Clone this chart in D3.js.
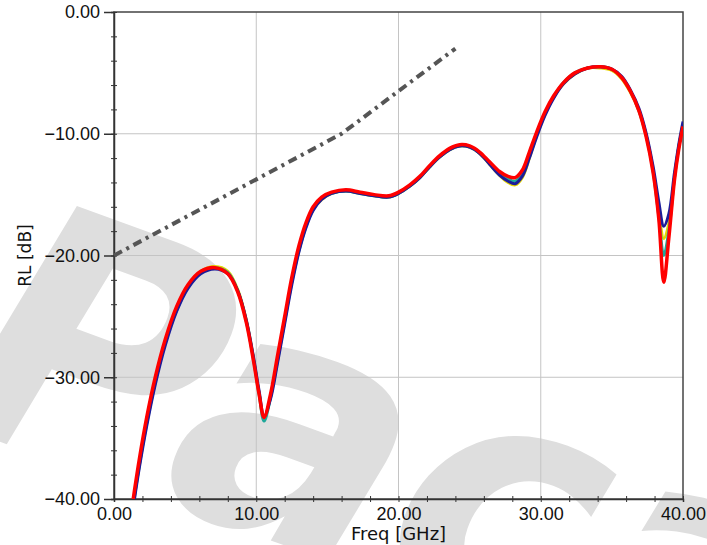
<!DOCTYPE html>
<html>
<head>
<meta charset="utf-8">
<script src="https://cdn.jsdelivr.net/npm/d3@7"></script>
<style>
	body { margin: 0; background: #fff; }
	svg { display: block; font-family: 'DejaVu Sans', sans-serif; }
</style>
</head>
<body>
<div id="chart"></div>
<script>
const freq = [1.35, 1.8, 2.3, 2.9, 3.6, 4.4, 5.2, 6.1, 7.1, 8.0, 8.7, 9.3, 9.8, 10.2, 10.55, 11.0, 11.5, 12.0, 12.5, 13.0, 13.5, 14.0, 14.6, 15.3, 16.3, 17.3, 18.3, 19.3, 20.0, 20.8, 21.5, 22.2, 22.9, 23.6, 24.3, 25.0, 25.7, 26.4, 27.1, 27.7, 28.2, 28.7, 29.2, 29.7, 30.3, 30.9, 31.6, 32.4, 33.3, 34.2, 35.0, 35.7, 36.3, 36.9, 37.4, 37.9, 38.3, 38.65, 39.0, 39.4, 39.7, 40]

const rlYellow = [-40.4, -37.0, -33.7, -30.3, -27.1, -24.4, -22.5, -21.3, -20.9, -21.3, -22.8, -25.3, -28.4, -31.3, -33.4, -31.6, -28.5, -25.3, -22.1, -19.5, -17.5, -16.2, -15.4, -14.9, -14.7, -14.9, -15.1, -15.2, -14.9, -14.3, -13.6, -12.7, -11.9, -11.3, -11.0, -11.1, -11.6, -12.5, -13.4, -14.0, -14.2, -13.6, -12.0, -10.2, -8.4, -7.0, -5.9, -5.1, -4.6, -4.6, -4.8, -5.5, -6.6, -8.1, -10.1, -13.0, -16.4, -18.6, -17.4, -13.6, -11.1, -9.2]
const rlGreen = [-40.5, -37.1, -33.8, -30.4, -27.2, -24.5, -22.6, -21.4, -21.0, -21.4, -22.9, -25.4, -28.5, -31.4, -33.6, -31.7, -28.6, -25.4, -22.2, -19.6, -17.6, -16.2, -15.3, -14.9, -14.7, -14.9, -15.1, -15.2, -14.9, -14.3, -13.6, -12.7, -11.9, -11.3, -11.0, -11.1, -11.6, -12.4, -13.2, -13.7, -13.9, -13.3, -11.8, -10.1, -8.3, -7.0, -5.8, -5.0, -4.6, -4.5, -4.7, -5.4, -6.5, -8.1, -10.1, -13.1, -16.8, -20.0, -18.0, -13.6, -11.1, -9.3]
const rlBlue = [-40.7, -37.3, -34.0, -30.6, -27.4, -24.6, -22.7, -21.5, -21.1, -21.5, -22.9, -25.3, -28.3, -31.1, -33.2, -31.8, -28.8, -25.6, -22.4, -19.7, -17.7, -16.3, -15.4, -14.9, -14.7, -14.9, -15.1, -15.2, -14.9, -14.3, -13.6, -12.7, -11.9, -11.3, -11.0, -11.1, -11.6, -12.5, -13.4, -13.9, -14.1, -13.5, -12.0, -10.3, -8.5, -7.1, -5.9, -5.1, -4.6, -4.5, -4.7, -5.3, -6.4, -7.9, -9.9, -12.7, -15.6, -17.6, -16.6, -13.2, -10.9, -9.0]
const rlRed = [-40, -36.6, -33.3, -30.0, -26.9, -24.2, -22.4, -21.3, -21.0, -21.5, -23.0, -25.5, -28.6, -31.4, -33.3, -31.4, -28.2, -25.0, -21.8, -19.2, -17.3, -16.0, -15.2, -14.8, -14.6, -14.8, -15.0, -15.1, -14.8, -14.2, -13.5, -12.6, -11.8, -11.2, -10.9, -11.0, -11.5, -12.3, -13.1, -13.5, -13.6, -13.0, -11.5, -9.9, -8.2, -6.9, -5.8, -5.0, -4.6, -4.5, -4.7, -5.4, -6.5, -8.1, -10.2, -13.2, -17.0, -22.2, -18.6, -13.8, -11.3, -9.4]

// spec limit (dash-dot)
const limitFreq = [0, 16, 24]
const limitRL = [-20, -10, -3]

const xTicks = [0, 10, 20, 30, 40]
const yTicks = [0, -10, -20, -30, -40]

const chart = {
	width: 707,
	height: 545,
	margin: { top: 12, right: 24, bottom: 46, left: 114 },

	draw(element) {
		const m = this.margin
		const svg = d3
			.select(`#${element}`)
			.append('svg')
			.attr('width', this.width)
			.attr('height', this.height)

		const x = d3
			.scaleLinear()
			.domain([0, 40])
			.range([m.left, this.width - m.right])

		const y = d3
			.scaleLinear()
			.domain([-40, 0])
			.range([this.height - m.bottom, m.top])

		// watermark behind everything
		svg
			.append('text')
			.attr('transform', 'translate(-60,420) rotate(20)')
			.style('font-family', "'DejaVu Sans', sans-serif")
			.style('font-weight', 'bold')
			.style('font-style', 'italic')
			.style('font-size', '340px')
			.style('fill', '#dedede')
			.text('Paca')

		// grid
		const grid = svg.append('g').style('stroke', '#c4c4c4').style('stroke-width', 1)
		grid
			.selectAll('.gx')
			.data(xTicks.slice(1, -1))
			.join('line')
			.attr('x1', d => x(d))
			.attr('x2', d => x(d))
			.attr('y1', y(0))
			.attr('y2', y(-40))
		grid
			.selectAll('.gy')
			.data(yTicks.slice(1, -1))
			.join('line')
			.attr('x1', x(0))
			.attr('x2', x(40))
			.attr('y1', d => y(d))
			.attr('y2', d => y(d))

		// frame
		svg
			.append('rect')
			.attr('x', x(0))
			.attr('y', y(0))
			.attr('width', x(40) - x(0))
			.attr('height', y(-40) - y(0))
			.style('fill', 'none')
			.style('stroke', '#444')
			.style('stroke-width', 1.5)

		const xAxis = g =>
			g
				.attr('transform', `translate(0,${y(-40)})`)
				.call(
					d3
						.axisBottom(x)
						.tickValues(d3.range(0, 41, 2))
						.tickSize(3)
						.tickFormat('')
				)
				.call(g => g.selectAll('.tick line').attr('y1', -3).style('stroke', '#333'))
				.call(g => g.select('.domain').style('stroke', '#333').style('stroke-width', 1.5))

		const xLabels = g =>
			g
				.attr('transform', `translate(0,${y(-40)})`)
				.call(d3.axisBottom(x).tickValues(xTicks).tickSize(0).tickPadding(8).tickFormat(d3.format('.2f')))
				.call(g => g.select('.domain').remove())
				.call(g => g.selectAll('text').style('font-size', '18px').style('fill', '#111'))

		const yAxis = g =>
			g
				.attr('transform', `translate(${x(0)},0)`)
				.call(
					d3
						.axisLeft(y)
						.tickValues(d3.range(-40, 1, 2))
						.tickSize(3)
						.tickFormat('')
				)
				.call(g => g.selectAll('.tick line').attr('x1', 3).style('stroke', '#333'))
				.call(g => g.select('.domain').style('stroke', '#333').style('stroke-width', 1.5))

		const yLabels = g =>
			g
				.attr('transform', `translate(${x(0)},0)`)
				.call(d3.axisLeft(y).tickValues(yTicks).tickSize(10).tickPadding(4).tickFormat(d3.format('.2f')))
				.call(g => g.select('.domain').remove())
				.call(g => g.selectAll('.tick line').style('stroke', '#333').style('stroke-width', 1.5))
				.call(g => g.selectAll('text').style('font-size', '18px').style('fill', '#111'))

		svg.append('g').call(xAxis)
		svg.append('g').call(yAxis)
		svg.append('g').call(xLabels)
		svg.append('g').call(yLabels)

		svg
			.append('text')
			.attr('x', (x(0) + x(40)) / 2)
			.attr('y', 540)
			.style('text-anchor', 'middle')
			.style('font-size', '18px')
			.style('fill', '#111')
			.text('Freq [GHz]')

		svg
			.append('text')
			.attr('transform', `translate(31,${(y(0) + y(-40)) / 2}) rotate(-90)`)
			.style('text-anchor', 'middle')
			.style('font-size', '17px')
			.style('fill', '#111')
			.text('RL [dB]')

		svg
			.append('clipPath')
			.attr('id', 'plot-clip')
			.append('rect')
			.attr('x', x(0))
			.attr('y', y(0))
			.attr('width', x(40) - x(0))
			.attr('height', y(-40) - y(0))

		const plot = svg.append('g').attr('clip-path', 'url(#plot-clip)')

		const line = d3
			.line()
			.x(d => x(d[0]))
			.y(d => y(d[1]))
			.curve(d3.curveCatmullRom.alpha(0.5))

		plot
			.append('path')
			.datum(d3.zip(limitFreq, limitRL))
			.attr('d', d3.line().x(d => x(d[0])).y(d => y(d[1])))
			.style('fill', 'none')
			.style('stroke', '#555')
			.style('stroke-width', 4)
			.style('stroke-dasharray', '9,5,3,5')

		const series = [
			{ values: rlYellow, color: '#e6d800', width: 3 },
			{ values: rlGreen, color: '#1fa89a', width: 3 },
			{ values: rlBlue, color: '#1c1c9a', width: 3 },
			{ values: rlRed, color: '#ff0000', width: 3.5 }
		]

		plot
			.selectAll('.curve')
			.data(series)
			.join('path')
			.attr('d', s => line(d3.zip(freq, s.values)))
			.style('fill', 'none')
			.style('stroke', s => s.color)
			.style('stroke-width', s => s.width)
			.style('stroke-linejoin', 'round')
	}
}

chart.draw('chart')
</script>
</body>
</html>
